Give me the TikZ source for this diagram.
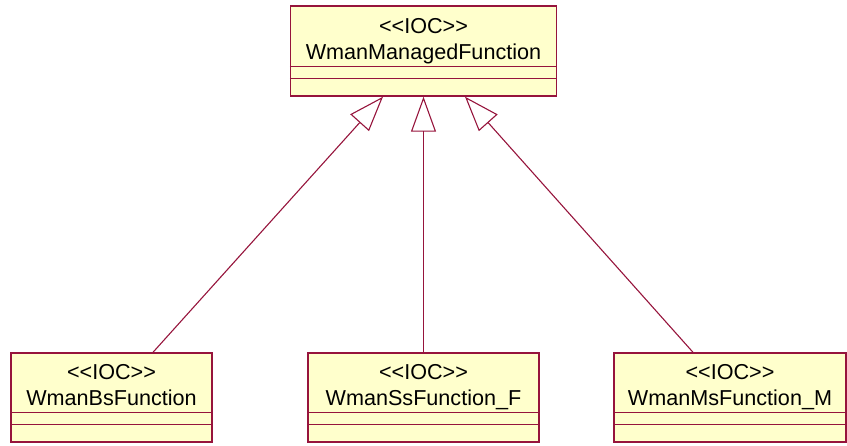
\documentclass[tikz,border=0pt]{standalone}
\usepackage{fontspec}
\setmainfont{Liberation Sans}
\usetikzlibrary{arrows.meta,positioning}

\definecolor{umlred}{RGB}{150,20,60}
\definecolor{umlyellow}{RGB}{255,255,204}

\tikzset{
  classbox/.style={draw=umlred, fill=umlyellow, line width=0.7pt, inner sep=0pt},
  classname/.style={font=\fontsize{10.8}{12.8}\selectfont, align=center, inner sep=0pt},
  inherit/.style={draw=umlred, line width=0.55pt, -{Triangle[open, length=17.5pt, width=12.5pt]}}
}

\begin{document}
\begin{tikzpicture}[x=0.5pt, y=-0.5pt]
  \useasboundingbox (0,0) rectangle (847,445);

  % super class
  \node[classbox, minimum width=133pt, minimum height=45pt] (wmf) at (423.5,51) {};
  \node[classname, below=6.5pt of wmf.north] (wmftext) {<\kern0pt<IOC>\kern0pt>\\WmanManagedFunction};

  % sub classes
  \node[classbox, minimum width=100.5pt, minimum height=44.5pt] (bs) at (111.5,397.5) {};
  \node[classname, below=6pt of bs.north] (bstext) {<\kern0pt<IOC>\kern0pt>\\WmanBsFunction};

  \node[classbox, minimum width=115.5pt, minimum height=44.5pt] (ss) at (423.5,397.5) {};
  \node[classname, below=6pt of ss.north] (sstext) {<\kern0pt<IOC>\kern0pt>\\WmanSsFunction\_F};

  \node[classbox, minimum width=116pt, minimum height=44.5pt] (ms) at (730,397.5) {};
  \node[classname, below=6pt of ms.north] (mstext) {<\kern0pt<IOC>\kern0pt>\\WmanMsFunction\_M};

  % empty compartments
  \foreach \c in {wmf,bs,ss,ms}{
    \draw[umlred, line width=0.55pt] ([yshift=15.2pt]\c.south west) -- ([yshift=15.2pt]\c.south east);
    \draw[umlred, line width=0.55pt] ([yshift=9.2pt]\c.south west) -- ([yshift=9.2pt]\c.south east);
  }

  % generalisations
  \draw[inherit] ([xshift=20.75pt]bs.north) -- ([xshift=-20.25pt]wmf.south);
  \draw[inherit] (ss.north) -- (wmf.south);
  \draw[inherit] ([xshift=-18.5pt]ms.north) -- ([xshift=20.75pt]wmf.south);
\end{tikzpicture}
\end{document}
